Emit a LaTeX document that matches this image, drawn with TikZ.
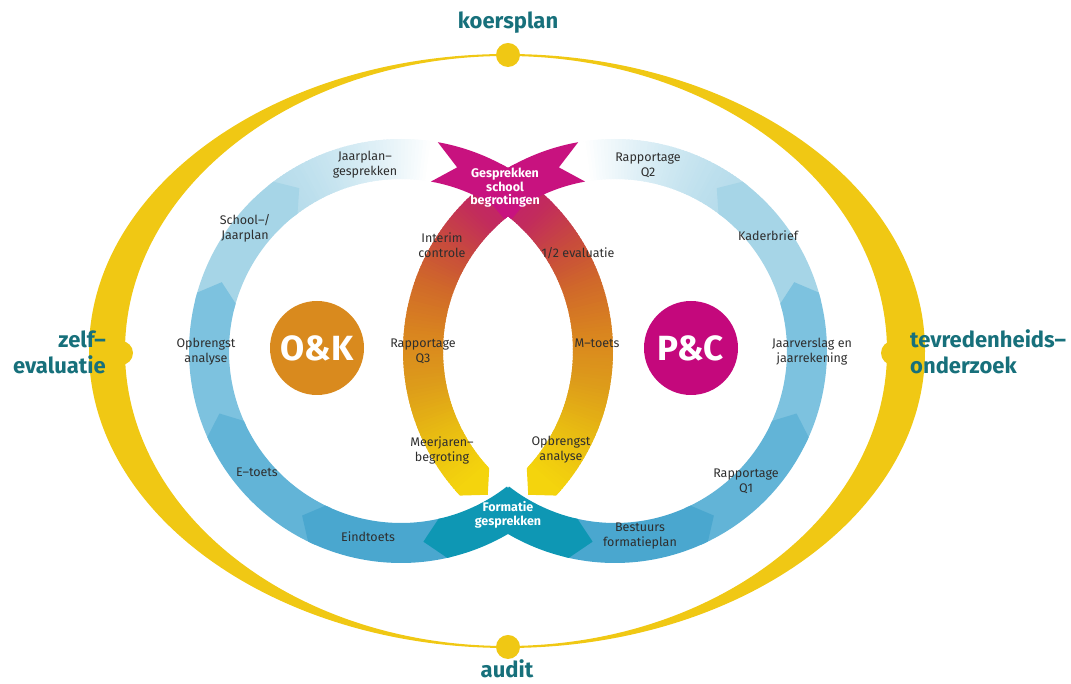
\documentclass[tikz,border=0pt]{standalone}
\usepackage{fontspec}
\setmainfont{Fira Sans}
\usetikzlibrary{calc}
\definecolor{labteal}{HTML}{17707B}
\definecolor{ysun}{HTML}{F0C814}
\definecolor{txt}{HTML}{2E2E2E}
\definecolor{bA}{HTML}{4AA7CF}
\definecolor{bB}{HTML}{62B4D7}
\definecolor{bC}{HTML}{7DC2DF}
\definecolor{bD}{HTML}{A6D5E7}
\definecolor{bE}{HTML}{B6DCEB}
\definecolor{form}{HTML}{0E97B4}
\definecolor{starc}{HTML}{C8127F}
\definecolor{okc}{HTML}{D98A1E}
\definecolor{pcc}{HTML}{C4087C}
\definecolor{g1}{HTML}{C41A78}
\definecolor{g2}{HTML}{C22C5C}
\definecolor{g3}{HTML}{C84C3C}
\definecolor{g4}{HTML}{D0682A}
\definecolor{g5}{HTML}{D9851F}
\definecolor{g6}{HTML}{DD9C1A}
\definecolor{g7}{HTML}{E8BB12}
\definecolor{g8}{HTML}{F2CF0E}
\definecolor{g9}{HTML}{F4D40D}
\newcommand\ringsec[4]{\fill[#4] ($(#1)+(#2:212pt)$) arc[start angle=#2,end angle=#3,radius=212pt] -- ($(#1)+(#3:172pt)$) arc[start angle=#3,end angle=#2,radius=172pt] -- cycle;}
\newcommand\ringchev[5]{\fill[#5] ($(#1)+(#2:212pt)$) arc[start angle=#2,end angle=#3,radius=212pt] -- ($(#1)+(#4:192pt)$) -- ($(#1)+(#3:172pt)$) arc[start angle=#3,end angle=#2,radius=172pt] -- cycle;}
\newcommand\gradarc[3]{%
  \foreach \a/\b/\ca/\cb in {62/45/g1/g2,45/32/g2/g3,32/20/g3/g4,20/5/g4/g5,5/-10/g5/g6,-10/-25/g6/g7,-25/-38/g7/g8,-38/-42/g8/g9}{
    \pgfmathtruncatemacro\n{abs(\a-\b)}
    \foreach \i in {1,...,\n}{
      \pgfmathsetmacro\s{#2+#3*(\a+(\b-\a)*(\i-1)/\n)}
      \pgfmathsetmacro\e{#2+#3*(\a+(\b-\a)*\i/\n-0.6)}
      \pgfmathtruncatemacro\p{100*(\i-0.5)/\n}
      \ringsec{#1}{\s}{\e}{\cb!\p!\ca}
    }
  }
}
\newcommand\fadearc[3]{%
  \foreach \i in {0,...,48}{
    \pgfmathsetmacro\s{#2+#3*(129-\i)}
    \pgfmathsetmacro\e{#2+#3*(129-\i-1.6)}
    \pgfmathtruncatemacro\p{min(100,100*(\i/47)^1.4)}
    \ringsec{#1}{\s}{\e}{white!\p!bE}
  }
}
\tikzset{
  lab/.style={font=\fontsize{12.5}{15}\selectfont, text=txt, align=center, inner sep=0pt},
  wlab/.style={font=\bfseries\fontsize{12.5}{13.5}\selectfont, text=white, align=center, inner sep=0pt},
  big/.style={font=\bfseries\fontsize{22}{26}\selectfont, text=labteal, inner sep=0pt},
  dot/.style={circle, fill=ysun, minimum size=24pt, inner sep=0pt},
  centre/.style={circle, minimum size=94pt, inner sep=0pt, text=white, font=\bfseries\fontsize{35}{40}\selectfont}
}
\begin{document}
\begin{tikzpicture}[x=1pt,y=1pt]
\useasboundingbox (0,0) rectangle (1071,684);
\coordinate (CL) at (401,333);
\coordinate (CR) at (615,333);
% outer yellow crescent ellipse
\fill[ysun, even odd rule] (507,333) ellipse [x radius=418, y radius=297] (506,333) ellipse [x radius=381, y radius=295];
\node[dot] (dtop) at (508,629) {};
\node[dot] (dbot) at (508,37) {};
\node[dot] (dleft) at (121,331) {};
\node[dot] (dright) at (893,331) {};
\node[big] (koers) at (508,661) {koersplan};
\node[big] (audit) at (507,15) {audit};
\node[big, anchor=east, align=right] (zelf) at (106,332) {zelf–\\evaluatie};
\node[big, anchor=west, align=left] (tevr) at (910,332) {tevredenheids–\\onderzoek};
% gradient arcs (top to bottom)
\gradarc{CL}{0}{1}
\gradarc{CR}{180}{-1}
\ringchev{CL}{-41}{-43}{-48.5}{g9}
\ringchev{CR}{221}{223}{228.5}{g9}
% blue rings (flow towards the top)
\fadearc{CL}{0}{1}
\fadearc{CR}{180}{-1}
\ringchev{CL}{-194}{-233}{-238}{bD}
\ringchev{CL}{-154}{-196}{-201}{bC}
\ringchev{CL}{-114}{-156}{-161}{bB}
\ringchev{CL}{-76}{-116}{-121}{bA}
\ringchev{CR}{374}{413}{418}{bD}
\ringchev{CR}{334}{376}{381}{bC}
\ringchev{CR}{294}{336}{341}{bB}
\ringchev{CR}{256}{296}{301}{bA}
% formatie shape
\ringchev{CL}{-52}{-77.4}{-83.3}{form}
\ringchev{CR}{232}{257.4}{263.3}{form}
% star shape
\ringchev{CL}{50}{80}{73}{starc}
\ringchev{CR}{130}{100}{107}{starc}
% centre circles
\node[centre, fill=okc] (ok) at (317,336) {O\&K};
\node[centre, fill=pcc] (pc) at (691,336) {P\&C};
% labels
\node[wlab] (gs) at (505,496) {Gesprekken\\school\\begrotingen};
\node[wlab] (fg) at (508,169) {Formatie\\gesprekken};
\node[lab] (jg) at (365,519) {Jaarplan–\\gesprekken};
\node[lab] (sj) at (245,456) {School–/\\Jaarplan};
\node[lab] (oa1) at (206,332) {Opbrengst\\analyse};
\node[lab] (et) at (257,212) {E–toets};
\node[lab] (ei) at (368,147) {Eindtoets};
\node[lab] (bf) at (640,148) {Bestuurs\\formatieplan};
\node[lab] (q1) at (746,203) {Rapportage\\Q1};
\node[lab] (jv) at (812,332) {Jaarverslag en\\jaarrekening};
\node[lab] (kb) at (768,448) {Kaderbrief};
\node[lab] (q2) at (648,519) {Rapportage\\Q2};
\node[lab] (ic) at (442,439) {Interim\\controle};
\node[lab] (he) at (578,431) {1/2 evaluatie};
\node[lab] (q3) at (423,333) {Rapportage\\Q3};
\node[lab] (mt) at (597,341) {M–toets};
\node[lab] (mj) at (442,234) {Meerjaren–\\begroting};
\node[lab] (oa2) at (561,234) {Opbrengst\\analyse};
\end{tikzpicture}
\end{document}
